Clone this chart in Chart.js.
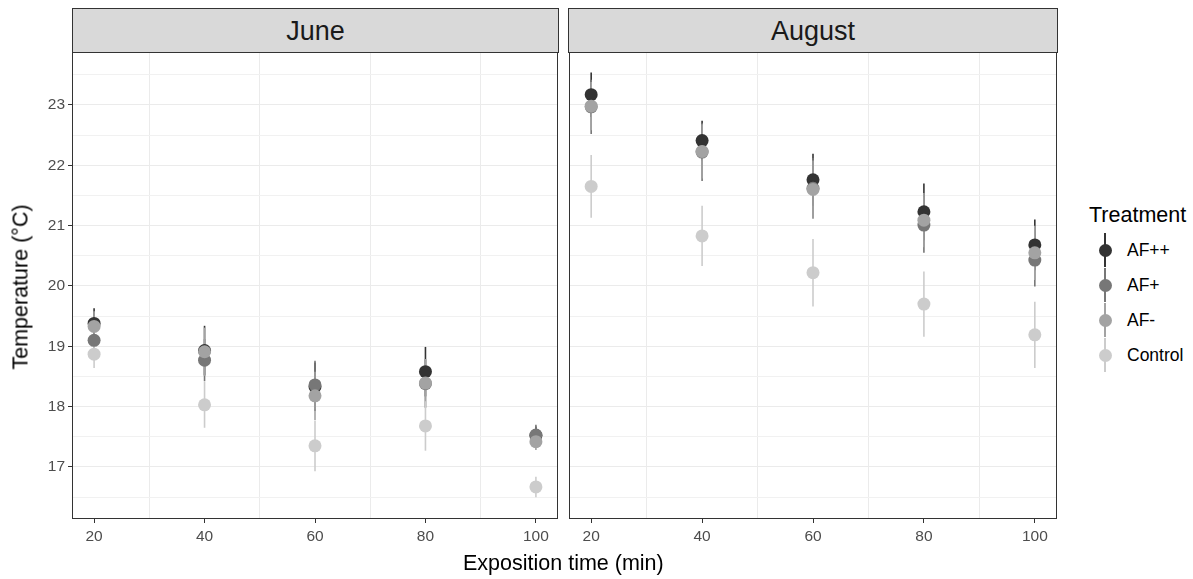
<!DOCTYPE html>
<html>
<head>
<meta charset="utf-8">
<title>Temperature by exposition time</title>
<script src="https://cdn.jsdelivr.net/npm/chart.js@4.4.1/dist/chart.umd.min.js"></script>
<style>
  body { margin: 0; background: #fff; font-family: "Liberation Sans", Arial, sans-serif; }
  #wrap { position: relative; width: 1193px; height: 579px; overflow: hidden; }
  canvas { position: absolute; top: 0; }
  .strip {
    position: absolute; top: 8px; height: 45px; box-sizing: border-box;
    background: #d9d9d9; border: 1px solid #333;
    font-size: 27px; color: #1a1a1a; text-align: center; line-height: 44px;
  }
  .axis-title { position: absolute; font-size: 21.5px; color: #000; white-space: nowrap; }
  #legend { position: absolute; left: 1089px; top: 203px; }
  #legend .title { font-size: 21.5px; color: #000; margin-bottom: 5px; }
  #legend .item { position: relative; height: 35px; }
  #legend .line { position: absolute; left: 15px; top: 0; width: 1.5px; height: 34px; }
  #legend .dot { position: absolute; left: 9.5px; top: 10.5px; width: 13px; height: 13px; border-radius: 50%; }
  #legend .lab { position: absolute; left: 38px; top: 7px; font-size: 17.5px; color: #000; }
</style>
</head>
<body>
<div id="wrap">
  <canvas id="juneChart" width="565" height="579" style="left:0px"></canvas>
  <canvas id="augChart" width="503" height="579" style="left:562px"></canvas>
  <div class="strip" style="left:72px; width:487px;">June</div>
  <div class="strip" style="left:568px; width:490px;">August</div>
  <div class="axis-title" style="left:463px; top:551px;">Exposition time (min)</div>
  <div class="axis-title" style="left:21px; top:287px; transform: translate(-50%, -50%) rotate(-90deg);">Temperature (°C)</div>
  <div id="legend"></div>
</div>
<script>
// x positions and treatments
const timeMin = [20, 40, 60, 80, 100];
const treatments = ["AF++", "AF+", "AF-", "Control"];
const treatmentColors = ["#333333", "#777777", "#a3a3a3", "#cccccc"];

// June means and error half-widths
const juneAFpp = [19.38, 18.93, 18.33, 18.58, 17.52];
const juneAFp = [19.10, 18.77, 18.36, 18.38, 17.53];
const juneAFm = [19.33, 18.91, 18.18, 18.39, 17.42];
const juneControl = [18.87, 18.03, 17.35, 17.68, 16.67];
const juneErrAFpp = [0.25, 0.41, 0.40, 0.41, 0.15];
const juneErrAFp = [0.25, 0.35, 0.40, 0.40, 0.17];
const juneErrAFm = [0.25, 0.40, 0.40, 0.40, 0.14];
const juneErrControl = [0.23, 0.38, 0.42, 0.41, 0.17];

// August means and error half-widths
const augAFpp = [23.17, 22.41, 21.76, 21.23, 20.68];
const augAFp = [22.97, 22.22, 21.62, 21.01, 20.43];
const augAFm = [22.98, 22.23, 21.60, 21.09, 20.55];
const augControl = [21.65, 20.83, 20.22, 19.70, 19.19];
const augErrAFpp = [0.37, 0.33, 0.43, 0.47, 0.42];
const augErrAFp = [0.45, 0.48, 0.50, 0.46, 0.44];
const augErrAFm = [0.40, 0.45, 0.48, 0.45, 0.45];
const augErrControl = [0.52, 0.50, 0.56, 0.54, 0.55];

// axis ticks
const xMajor = [20, 40, 60, 80, 100];
const xMinor = [30, 50, 70, 90];
const yMajor = [17, 18, 19, 20, 21, 22, 23];
const yMinor = [16.5, 17.5, 18.5, 19.5, 20.5, 21.5, 22.5, 23.5];

const FONT = "'Liberation Sans', Arial, sans-serif";

const errorBars = {
  id: "errorBars",
  beforeDatasetsDraw(chart) {
    const ctx = chart.ctx;
    const xs = chart.scales.x;
    const ys = chart.scales.y;
    ctx.save();
    ctx.beginPath();
    ctx.rect(chart.chartArea.left, chart.chartArea.top,
      chart.chartArea.right - chart.chartArea.left,
      chart.chartArea.bottom - chart.chartArea.top);
    ctx.clip();
    chart.data.datasets.forEach((ds) => {
      ctx.strokeStyle = ds.backgroundColor;
      ctx.lineWidth = 1.6;
      ds.data.forEach((p, i) => {
        const x = xs.getPixelForValue(p.x);
        ctx.beginPath();
        ctx.moveTo(x, ys.getPixelForValue(p.y - ds.err[i]));
        ctx.lineTo(x, ys.getPixelForValue(p.y + ds.err[i]));
        ctx.stroke();
      });
    });
    ctx.restore();
  },
  afterDraw(chart) {
    // panel border
    const a = chart.chartArea;
    const ctx = chart.ctx;
    ctx.save();
    ctx.strokeStyle = "#333333";
    ctx.lineWidth = 1;
    ctx.strokeRect(Math.round(a.left) + 0.5, Math.round(a.top) + 0.5,
      Math.round(a.right - a.left) - 1, Math.round(a.bottom - a.top) - 1);
    ctx.restore();
  },
};

function makeChart(canvasId, means, errs, showY, yWidth, padRight) {
  const datasets = treatments.map((name, k) => ({
    label: name,
    data: timeMin.map((t, i) => ({ x: t, y: means[k][i] })),
    err: errs[k],
    backgroundColor: treatmentColors[k],
    borderWidth: 0,
    pointRadius: 6.5,
    pointHoverRadius: 6.5,
    showLine: false,
    order: treatments.length - k,
  }));

  return new Chart(document.getElementById(canvasId).getContext("2d"), {
    type: "scatter",
    data: { datasets: datasets },
    options: {
      responsive: false,
      animation: false,
      layout: { padding: { top: 52, right: padRight, bottom: 0, left: 0 } },
      plugins: { legend: { display: false }, tooltip: { enabled: false } },
      scales: {
        x: {
          type: "linear",
          min: 16,
          max: 104,
          afterBuildTicks: (scale) => {
            scale.ticks = xMajor.concat(xMinor).sort((a, b) => a - b).map((v) => ({ value: v }));
          },
          afterFit: (scale) => { scale.height = 60; },
          border: { display: false },
          grid: {
            color: (c) => (c.tick && xMinor.includes(c.tick.value) ? "#ebebeb" : "rgba(0,0,0,0)"),
            tickColor: (c) => (c.tick && xMajor.includes(c.tick.value) ? "#333333" : "rgba(0,0,0,0)"),
            tickLength: 4,
            lineWidth: 1,
          },
          ticks: {
            autoSkip: false,
            maxRotation: 0,
            padding: 4,
            color: "#4d4d4d",
            font: { family: FONT, size: 15.5 },
            callback: (v) => (xMajor.includes(v) ? String(v) : ""),
          },
        },
        y: {
          type: "linear",
          min: 16.138,
          max: 23.878,
          afterBuildTicks: (scale) => {
            scale.ticks = yMajor.concat(yMinor).sort((a, b) => a - b).map((v) => ({ value: v }));
          },
          afterFit: (scale) => { scale.width = yWidth; },
          border: { display: false },
          grid: {
            color: (c) => (c.tick && yMajor.includes(c.tick.value) ? "#ebebeb" : "#f1f1f1"),
            tickColor: (c) => (showY && c.tick && yMajor.includes(c.tick.value) ? "#333333" : "rgba(0,0,0,0)"),
            drawTicks: showY,
            tickLength: 4,
            lineWidth: 1,
          },
          ticks: {
            display: showY,
            autoSkip: false,
            padding: 3,
            color: "#4d4d4d",
            font: { family: FONT, size: 15.5 },
            callback: (v) => (yMajor.includes(v) ? String(v) : ""),
          },
        },
      },
    },
    plugins: [errorBars],
  });
}

makeChart("juneChart",
  [juneAFpp, juneAFp, juneAFm, juneControl],
  [juneErrAFpp, juneErrAFp, juneErrAFm, juneErrControl],
  true, 72, 7);

makeChart("augChart",
  [augAFpp, augAFp, augAFm, augControl],
  [augErrAFpp, augErrAFp, augErrAFm, augErrControl],
  false, 7, 8);

// legend
const legend = document.getElementById("legend");
const lt = document.createElement("div");
lt.className = "title";
lt.textContent = "Treatment";
legend.appendChild(lt);
treatments.forEach((name, k) => {
  const item = document.createElement("div");
  item.className = "item";
  item.innerHTML =
    '<div class="line" style="background:' + treatmentColors[k] + '"></div>' +
    '<div class="dot" style="background:' + treatmentColors[k] + '"></div>' +
    '<div class="lab">' + name + "</div>";
  legend.appendChild(item);
});
</script>
</body>
</html>
